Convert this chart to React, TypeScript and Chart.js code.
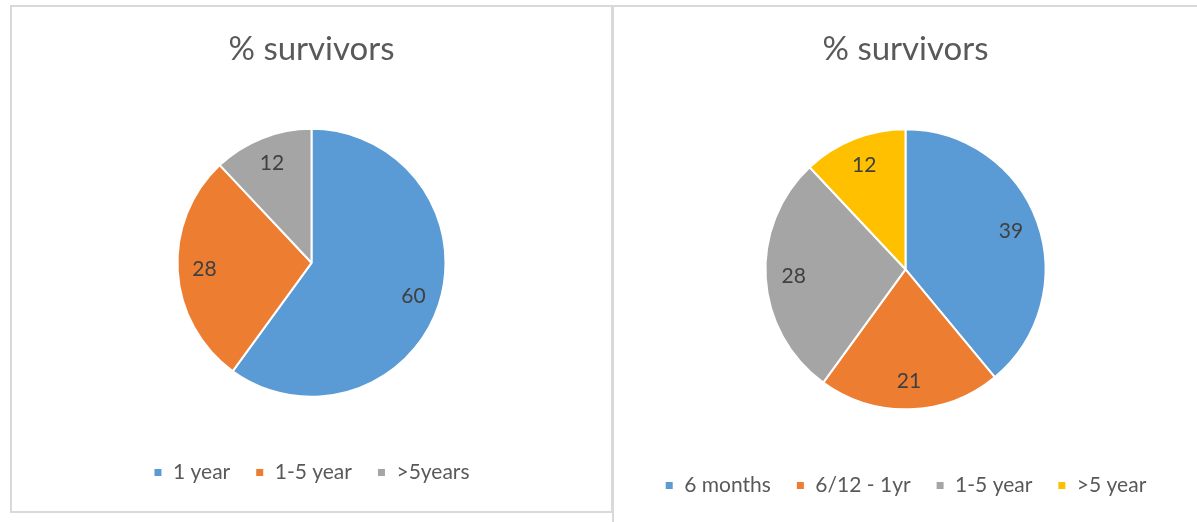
import React, { useEffect, useRef } from "react";
import { Chart, registerables } from "chart.js";

Chart.register(...registerables);

const chartTitle = "% survivors";
const leftCategories = ["1 year", "1-5 year", ">5years"];
const leftValues = [60, 28, 12];
const leftColors = ["#5B9BD5", "#ED7D31", "#A5A5A5"];
const rightCategories = ["6 months", "6/12 - 1yr", "1-5 year", ">5 year"];
const rightValues = [39, 21, 28, 12];
const rightColors = ["#5B9BD5", "#ED7D31", "#A5A5A5", "#FFC000"];

const FONT = "Lato, 'Open Sans', sans-serif";

const sliceLabelPlugin = {
  id: "sliceLabels",
  afterDatasetsDraw(chart: any) {
    const ctx = chart.ctx;
    const meta = chart.getDatasetMeta(0);
    const data = chart.data.datasets[0].data;
    ctx.save();
    ctx.font = `21px ${FONT}`;
    ctx.fillStyle = "#404040";
    ctx.textAlign = "center";
    ctx.textBaseline = "middle";
    meta.data.forEach((arc: any, i: number) => {
      const p = arc.getProps(["startAngle", "endAngle", "outerRadius", "x", "y"], true);
      const mid = (p.startAngle + p.endAngle) / 2;
      const r = p.outerRadius * 0.8;
      ctx.fillText(String(data[i]), p.x + Math.cos(mid) * r, p.y + Math.sin(mid) * r);
    });
    ctx.restore();
  },
};

type PieProps = {
  width: number;
  height: number;
  labels: string[];
  values: number[];
  colors: string[];
  radius: number;
  legendBottom: number;
  titleBottomPad: number;
};

function PieChart({ width, height, labels, values, colors, radius, legendBottom, titleBottomPad }: PieProps) {
  const ref = useRef<HTMLCanvasElement | null>(null);
  useEffect(() => {
    if (!ref.current) return;
    const chart = new Chart(ref.current, {
      type: "pie",
      data: {
        labels,
        datasets: [
          {
            data: values,
            backgroundColor: colors,
            borderColor: "#FFFFFF",
            borderWidth: 2,
          },
        ],
      },
      options: {
        responsive: false,
        animation: false,
        radius,
        layout: { padding: { top: 0, bottom: legendBottom, left: 0, right: 0 } },
        plugins: {
          title: {
            display: true,
            text: chartTitle,
            color: "#595959",
            font: { family: FONT, size: 33, weight: "normal" },
            padding: { top: 23, bottom: titleBottomPad },
          },
          legend: {
            display: true,
            position: "bottom",
            labels: {
              color: "#595959",
              font: { family: FONT, size: 21 },
              boxWidth: 9,
              boxHeight: 9,
              padding: 25,
            },
          },
          tooltip: { enabled: false },
        },
      },
      plugins: [sliceLabelPlugin],
    });
    return () => chart.destroy();
  }, []);
  return <canvas ref={ref} width={width} height={height} style={{ display: "block", width, height }} />;
}

export default function App() {
  return (
    <div
      style={{
        position: "absolute",
        left: 0,
        top: 0,
        width: 1197,
        height: 522,
        overflow: "hidden",
        background: "#FFFFFF",
      }}
    >
      <div
        style={{
          position: "absolute",
          left: 10,
          top: 5,
          width: 603,
          height: 508,
          border: "2px solid #D9D9D9",
          boxSizing: "border-box",
        }}
      >
        <PieChart
          width={599}
          height={504}
          labels={leftCategories}
          values={leftValues}
          colors={leftColors}
          radius={134}
          legendBottom={18}
          titleBottomPad={19}
        />
      </div>
      <div
        style={{
          position: "absolute",
          left: 612,
          top: 5,
          width: 600,
          height: 540,
          border: "2px solid #D9D9D9",
          boxSizing: "border-box",
        }}
      >
        <PieChart
          width={583}
          height={515}
          labels={rightCategories}
          values={rightValues}
          colors={rightColors}
          radius={140}
          legendBottom={16}
          titleBottomPad={19}
        />
      </div>
    </div>
  );
}
